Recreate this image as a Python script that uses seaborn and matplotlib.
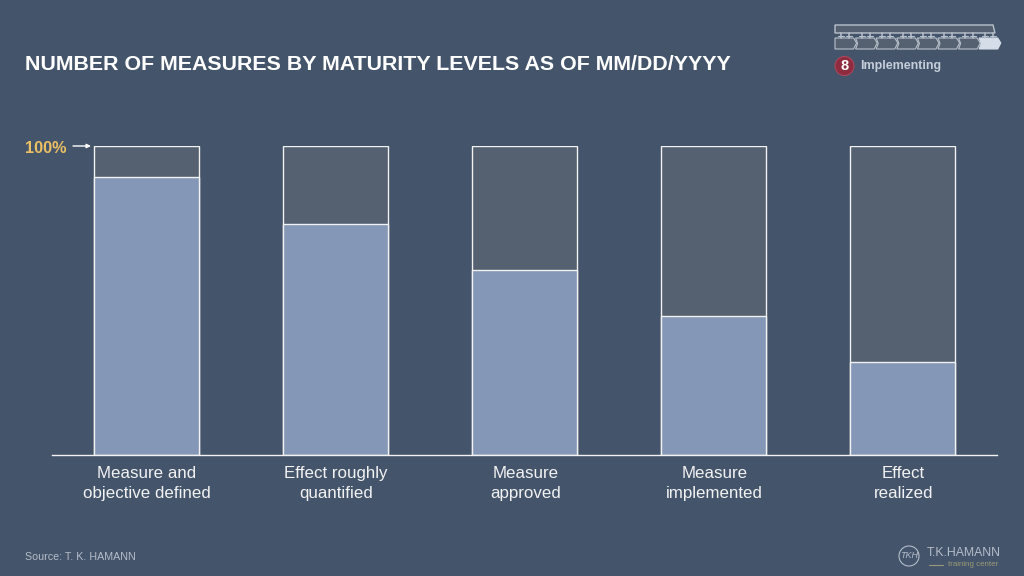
import matplotlib

matplotlib.use("Agg")
import matplotlib.patches as mpatches
import matplotlib.pyplot as plt
import pandas as pd
import seaborn as sns

categories = [
    "Measure and\nobjective defined",
    "Effect roughly\nquantified",
    "Measure\napproved",
    "Measure\nimplemented",
    "Effect\nrealized",
]
measures_pct = [90, 75, 60, 45, 30]
total_pct = [100, 100, 100, 100, 100]

BG = "#44546A"
BAR = "#8497B6"
REST = "#556170"
EDGE = "#F2F2F2"
GOLD = "#EBC064"
W, H = 1024, 576

sns.set_theme(style="white")
plt.rcParams["font.family"] = ["Liberation Sans", "DejaVu Sans"]

df = pd.DataFrame({"category": categories, "measures": measures_pct, "total": total_pct})

fig = plt.figure(figsize=(W / 100, H / 100), dpi=100, facecolor=BG)

# main chart placed in pixel terms: x 52-998, y 146-455
ax = fig.add_axes([51.7 / W, 1 - 455 / H, 945.6 / W, 308.6 / H], facecolor=BG)
sns.barplot(data=df, x="category", y="total", color=REST, saturation=1, width=0.555,
            edgecolor=EDGE, linewidth=1, ax=ax)
sns.barplot(data=df, x="category", y="measures", color=BAR, saturation=1, width=0.555,
            edgecolor=EDGE, linewidth=1, ax=ax)
ax.set_xlim(-0.5, 4.5)
ax.set_ylim(0, 100)
ax.set_xlabel("")
ax.set_ylabel("")
ax.set_yticks([])
ax.tick_params(axis="x", length=0, labelbottom=False)
for side in ["top", "left", "right"]:
    ax.spines[side].set_visible(False)
ax.spines["bottom"].set_color(EDGE)
ax.spines["bottom"].set_linewidth(1)

# two-line labels drawn per line so every baseline sits at the same height
for i, cat in enumerate(categories):
    for line, offset in zip(cat.split("\n"), (-23, -43)):
        ax.annotate(line, xy=(i, 0), xytext=(0.7, offset), xycoords=("data", "axes fraction"),
                    textcoords="offset pixels", ha="center", va="baseline",
                    fontsize=12.2, color="#F2F2F2")

# overlay in pixel coordinates for the slide furniture
ov = fig.add_axes([0, 0, 1, 1], facecolor="none")
ov.set_xlim(0, W)
ov.set_ylim(H, 0)
ov.axis("off")

ov.text(25, 64.5, "NUMBER OF MEASURES BY MATURITY LEVELS AS OF MM/DD/YYYY", color="white",
        fontsize=15.38, fontweight="bold", va="center", ha="left")
ov.text(25, 148.5, "100%", color=GOLD, fontsize=11.7, fontweight="bold", va="center", ha="left")
ov.annotate("", xy=(91, 146), xytext=(73, 146),
            arrowprops=dict(arrowstyle="-|>", color="white", lw=1, mutation_scale=6, shrinkA=0, shrinkB=0))
ov.text(25, 557, "Source: T. K. HAMANN", color="#B4BDCA", fontsize=7.7, va="center", ha="left")

# process tracker, top right
LINE = "#B9C1CC"
ov.add_patch(mpatches.Polygon([(835, 25), (993, 25), (995, 33), (835, 33)], closed=True,
                              facecolor=REST, edgecolor=LINE, lw=1))
step_w = 20.6
for i in range(8):
    x0 = 835 + i * step_w
    x1 = x0 + step_w
    last = i == 7
    pts = [(x0, 38), (x1 - 2, 38), (x1 + 1, 43), (x1 - 2, 49), (x0, 49)]
    if i > 0:
        pts.append((x0 + 2, 43.5))
    ov.add_patch(mpatches.Polygon(pts, closed=True, facecolor="#D5DDE9" if last else REST,
                                  edgecolor="#D5DDE9" if last else LINE, lw=0.8))
    for dx in (6, 14):
        ov.plot([x0 + dx, x0 + dx], [33, 38], color=LINE, lw=1.1)
        ov.plot([x0 + dx - 3, x0 + dx + 3], [35.5, 35.5], color=LINE, lw=0.8)

ov.add_patch(mpatches.Circle((844.5, 66), 9.5, facecolor="#8E2B3F", edgecolor="#A8495B", lw=0.8))
ov.text(844.5, 66, "8", color="white", fontsize=10.5, fontweight="bold", va="center", ha="center")
ov.text(860.5, 66.5, "Implementing", color="#C5CEDB", fontsize=9, fontweight="bold", va="center", ha="left")

# logo, bottom right
LOGO = "#B4BDCA"
ov.add_patch(mpatches.Circle((909, 556), 10, facecolor="none", edgecolor=LOGO, lw=0.8))
ov.text(909, 556, "TKH", color=LOGO, fontsize=6.5, style="italic", va="center", ha="center")
ov.text(926.5, 553, "T.K.HAMANN", color=LOGO, fontsize=8.8, va="center", ha="left")
ov.plot([929, 943], [564.5, 564.5], color="#9C9A78", lw=0.8)
ov.text(948, 564.5, "training center", color="#9C9A78", fontsize=5.7, va="center", ha="left")

fig.savefig("out.png", dpi=100, facecolor=BG)
